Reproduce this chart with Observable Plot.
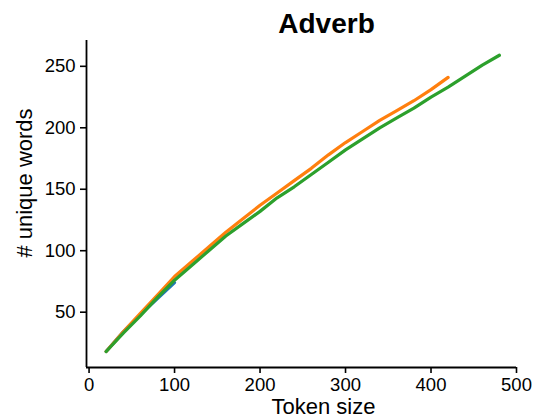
<!DOCTYPE html>
<html>
<head>
<meta charset="utf-8">
<script src="https://cdn.jsdelivr.net/npm/d3@7"></script>
<script src="https://cdn.jsdelivr.net/npm/@observablehq/plot@0.6"></script>
<style>
  html, body { margin: 0; padding: 0; background: #fff; }
  #chart { width: 537px; height: 420px; }
</style>
</head>
<body>
<div id="chart"></div>
<script>
const titleText = "Adverb";
const xLabel = "Token size";
const yLabel = "# unique words";
const seriesNames = ["series 1", "series 2", "series 3"];
const seriesColors = ["#1f77b4", "#ff7f0e", "#2ca02c"];
const tokenSizes = [20,40,60,80,100,120,140,160,180,200,220,240,260,280,300,320,340,360,380,400,420,440,460,480];
const blueValues = [18,34,48,61,74];
const orangeValues = [18,34,49,64,79,91,103,115,126,137,147,157,167,178,188,197,206,214,222,231,241];
const greenValues = [18,33,47,62,76,88,100,112,122,132,143,152,162,172,182,191,200,208,216,225,233,242,251,259];
const xTicks = [0,100,200,300,400,500];
const yTicks = [50,100,150,200,250];
const xDomain = [-3, 500];
const yDomain = [5, 271];

const allSeries = [blueValues, orangeValues, greenValues];
const rows = [];
allSeries.forEach((vals, i) => {
  vals.forEach((v, j) => rows.push({series: seriesNames[i], x: tokenSizes[j], y: v}));
});

const chart = Plot.plot({
  width: 537,
  height: 420,
  marginLeft: 86,
  marginRight: 21,
  marginTop: 40,
  marginBottom: 53,
  style: {fontFamily: "'Liberation Sans', Arial, sans-serif", color: "#000", background: "#fff"},
  x: {domain: xDomain, axis: null},
  y: {domain: yDomain, axis: null},
  color: {domain: seriesNames, range: seriesColors},
  marks: [
    Plot.axisX({ticks: xTicks, tickSize: 6, tickPadding: 4, fontSize: 18.5, strokeWidth: 1.6, label: null, tickFormat: d => String(d)}),
    Plot.axisY({ticks: yTicks, tickSize: 6, tickPadding: 5, fontSize: 18.5, strokeWidth: 1.6, label: null, tickFormat: d => String(d)}),
    Plot.ruleY([yDomain[0]], {stroke: "#000", strokeWidth: 1.8}),
    Plot.ruleX([xDomain[0]], {stroke: "#000", strokeWidth: 1.8}),
    Plot.line(rows, {x: "x", y: "y", z: "series", stroke: "series", strokeWidth: 3.2}),
    Plot.text([titleText], {frameAnchor: "top", dx: 25, dy: -27, fontSize: 28, fontWeight: "bold", fill: "#000"}),
    Plot.text([xLabel], {frameAnchor: "bottom", dx: 22, dy: 31, lineAnchor: "top", fontSize: 22, fill: "#000"}),
    Plot.text([yLabel], {frameAnchor: "left", textAnchor: "middle", lineAnchor: "middle", dx: -62, dy: -21, rotate: -90, fontSize: 22, fill: "#000"})
  ]
});
document.getElementById("chart").appendChild(chart);
</script>
</body>
</html>
